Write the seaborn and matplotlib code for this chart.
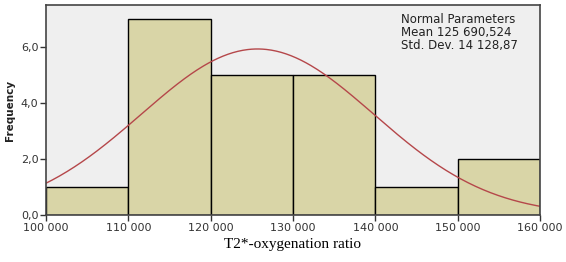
import numpy as np
import pandas as pd
import matplotlib
matplotlib.use("Agg")
import matplotlib.pyplot as plt
import seaborn as sns
from matplotlib.ticker import FuncFormatter

bin_edges = [100000, 110000, 120000, 130000, 140000, 150000, 160000]
bin_centers = [105000, 115000, 125000, 135000, 145000, 155000]
counts = [1, 7, 5, 5, 1, 2]
mean_val = 125690.524
sd_val = 14128.87
x_ticks = [100000, 110000, 120000, 130000, 140000, 150000, 160000]
y_ticks = [0, 2, 4, 6]

sns.set_style("white")
plt.rcParams['font.family'] = ['DejaVu Sans']

fig = plt.figure(figsize=(5.66, 2.62), dpi=100)
ax = fig.add_axes([46/566, 47/262, 494/566, 210/262])
ax.set_facecolor("#EFEFEF")

df = pd.DataFrame({"x": bin_centers, "n": counts})
sns.histplot(data=df, x="x", weights="n", bins=bin_edges, ax=ax,
             color="#D9D5A7", edgecolor="black", linewidth=1.0, alpha=1.0)

xs = np.linspace(100000, 160000, 400)
n_total = sum(counts)
bw = bin_edges[1] - bin_edges[0]
ys = n_total * bw * np.exp(-0.5 * ((xs - mean_val) / sd_val) ** 2) / (sd_val * np.sqrt(2 * np.pi))
sns.lineplot(x=xs, y=ys, ax=ax, color="#B5474A", linewidth=1.0)

ax.set_xlim(100000, 160000)
ax.set_ylim(0, 7.5)
ax.set_xticks(x_ticks)
ax.set_yticks(y_ticks)
ax.xaxis.set_major_formatter(FuncFormatter(lambda v, p: f"{int(v):,}".replace(",", " ")))
ax.yaxis.set_major_formatter(FuncFormatter(lambda v, p: f"{v:.1f}".replace(".", ",")))
ax.tick_params(axis="both", direction="out", length=4, width=1, color="#333333",
               labelsize=8, labelcolor="#333333", pad=1.5,
               bottom=True, left=True)
for s in ax.spines.values():
    s.set_color("#444444")
    s.set_linewidth(1.2)

ax.set_xlabel("T2*-oxygenation ratio", family="Liberation Serif", fontsize=11, labelpad=4, color="black")
ax.set_ylabel("Frequency", fontsize=7.5, fontweight="bold", labelpad=4, color="#222222")

ax.text(0.718, 0.96, "Normal Parameters\nMean 125 690,524\nStd. Dev. 14 128,87",
        transform=ax.transAxes, ha="left", va="top", fontsize=8.5,
        color="#222222", linespacing=1.0)

fig.savefig("out.png", dpi=100)
